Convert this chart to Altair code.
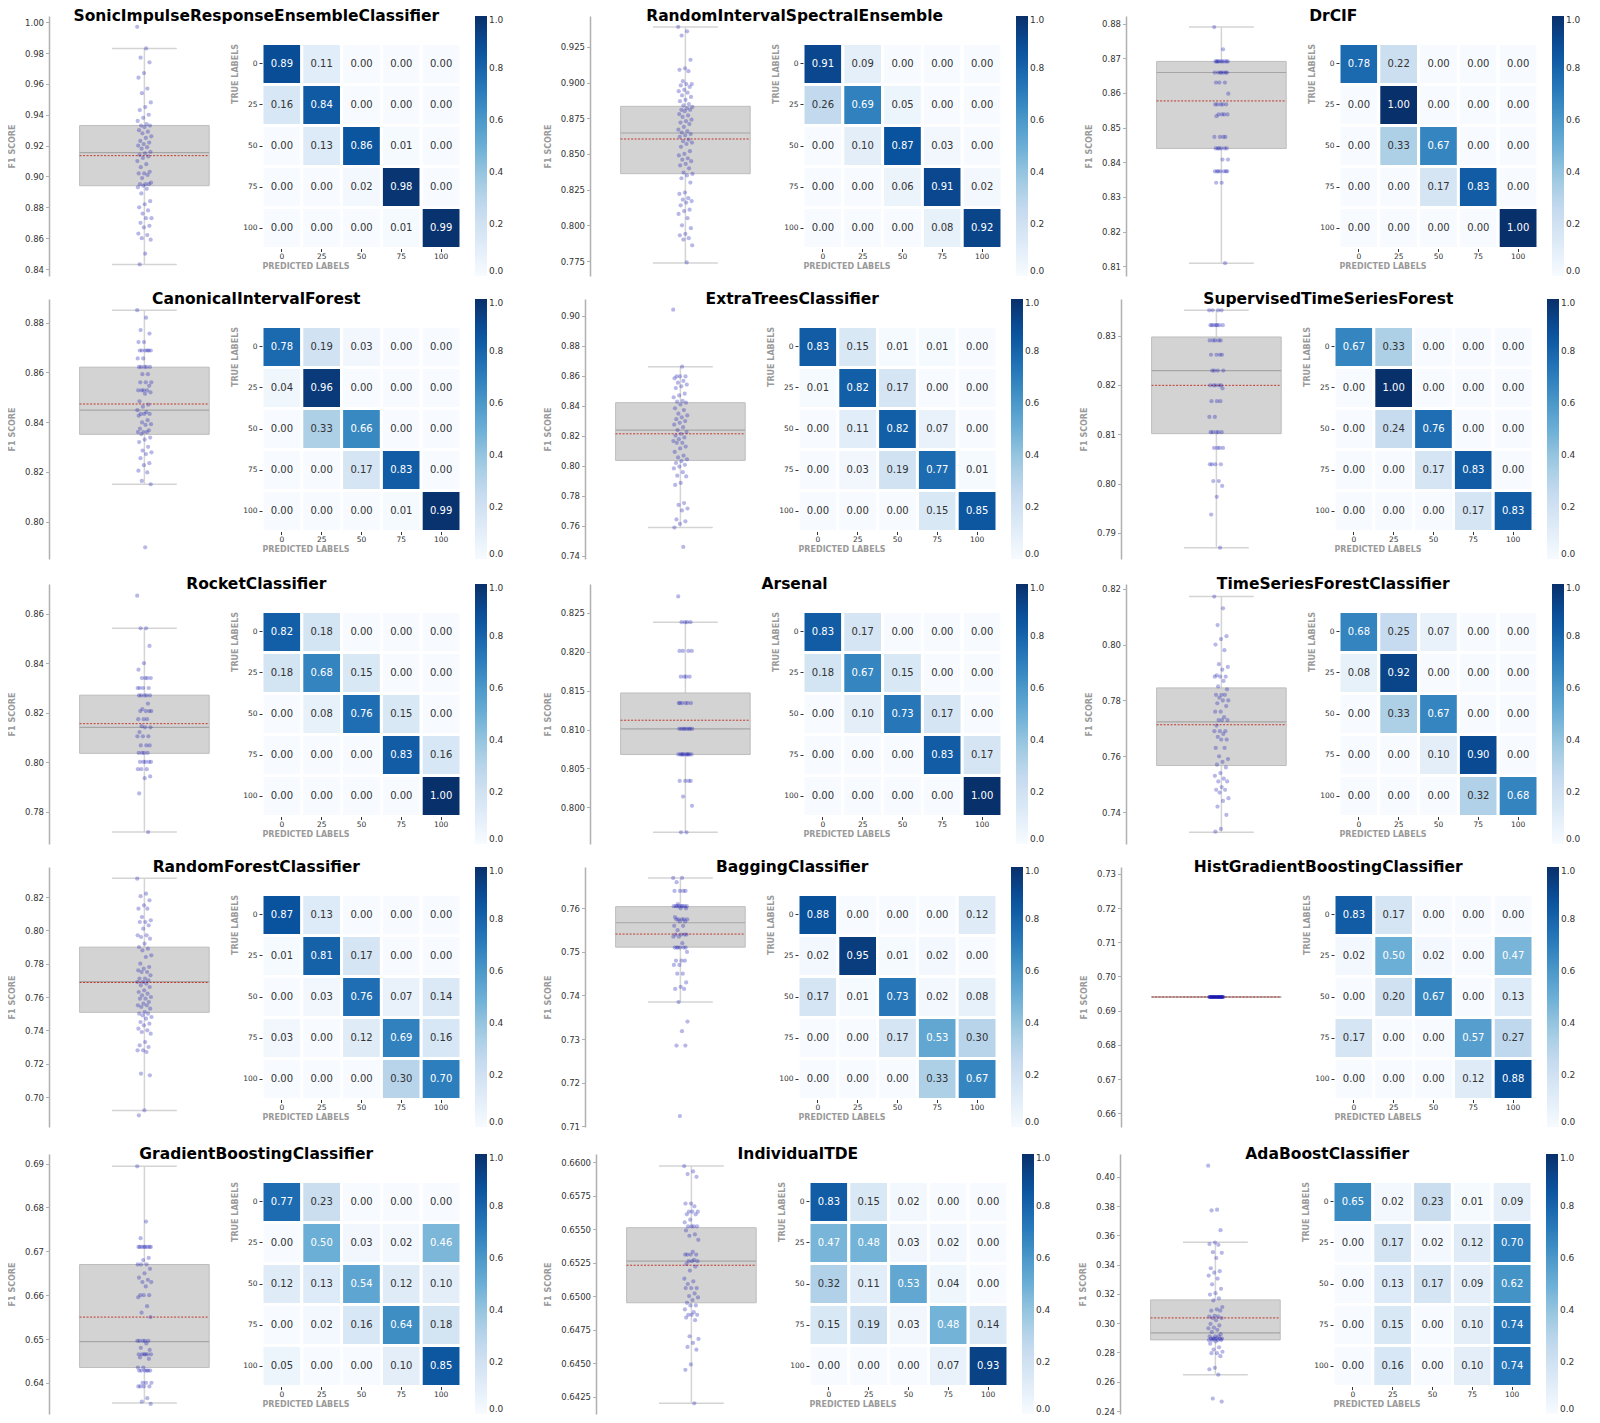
import altair as alt
import pandas as pd

names = ["SonicImpulseResponseEnsembleClassifier", "RandomIntervalSpectralEnsemble", "DrCIF",
         "CanonicalIntervalForest", "ExtraTreesClassifier", "SupervisedTimeSeriesForest",
         "RocketClassifier", "Arsenal", "TimeSeriesForestClassifier",
         "RandomForestClassifier", "BaggingClassifier", "HistGradientBoostingClassifier",
         "GradientBoostingClassifier", "IndividualTDE", "AdaBoostClassifier"]

y_domains = [[0.8355, 1.004], [0.7645, 0.9467], [0.8072, 0.8822],
             [0.785, 0.8895], [0.738, 0.911], [0.7847, 0.8374],
             [0.767, 0.872], [0.7953, 0.8287], [0.7286, 0.8217],
             [0.682, 0.838], [0.7098, 0.7695], [0.656, 0.732],
             [0.6329, 0.6922], [0.6412, 0.6606], [0.238, 0.4155]]

y_ticks = [[0.84, 0.86, 0.88, 0.90, 0.92, 0.94, 0.96, 0.98, 1.00],
           [0.775, 0.8, 0.825, 0.85, 0.875, 0.9, 0.925],
           [0.81, 0.82, 0.83, 0.84, 0.85, 0.86, 0.87, 0.88],
           [0.80, 0.82, 0.84, 0.86, 0.88],
           [0.74, 0.76, 0.78, 0.80, 0.82, 0.84, 0.86, 0.88, 0.90],
           [0.79, 0.80, 0.81, 0.82, 0.83],
           [0.78, 0.80, 0.82, 0.84, 0.86],
           [0.800, 0.805, 0.810, 0.815, 0.820, 0.825],
           [0.74, 0.76, 0.78, 0.80, 0.82],
           [0.70, 0.72, 0.74, 0.76, 0.78, 0.80, 0.82],
           [0.71, 0.72, 0.73, 0.74, 0.75, 0.76],
           [0.66, 0.67, 0.68, 0.69, 0.70, 0.71, 0.72, 0.73],
           [0.64, 0.65, 0.66, 0.67, 0.68, 0.69],
           [0.6425, 0.645, 0.6475, 0.65, 0.6525, 0.655, 0.6575, 0.66],
           [0.24, 0.26, 0.28, 0.30, 0.32, 0.34, 0.36, 0.38, 0.40]]

tick_formats = [".2f", ".3f", ".2f", ".2f", ".2f", ".2f", ".2f", ".3f", ".2f",
                ".2f", ".2f", ".2f", ".2f", ".4f", ".2f"]

box_lo = [0.843, 0.7736, 0.8109, 0.815, 0.7589, 0.787, 0.7718, 0.7968, 0.7328,
          0.6919, 0.7385, 0.694, 0.6354, 0.642, 0.2648]
box_q1 = [0.894, 0.8362, 0.844, 0.8351, 0.8036, 0.8101, 0.8036, 0.8068, 0.7567,
          0.7508, 0.7511, 0.694, 0.6435, 0.6495, 0.2886]
box_med = [0.9155, 0.8647, 0.8659, 0.8448, 0.8238, 0.8229, 0.8141, 0.8101, 0.7723,
           0.7692, 0.7567, 0.694, 0.6494, 0.6526, 0.2934]
box_q3 = [0.933, 0.8834, 0.8691, 0.8621, 0.842, 0.8297, 0.8271, 0.8147, 0.7845,
          0.7899, 0.7604, 0.694, 0.667, 0.6551, 0.3159]
box_hi = [0.983, 0.939, 0.879, 0.885, 0.866, 0.8351, 0.8541, 0.8238, 0.8172,
          0.8313, 0.767, 0.694, 0.6894, 0.6597, 0.3552]
box_mean = [0.9135, 0.8605, 0.8577, 0.8473, 0.8213, 0.8199, 0.8156, 0.8112, 0.7713,
            0.7687, 0.7541, 0.694, 0.655, 0.6523, 0.3036]

pts_sonic = [0.997, 0.983, 0.977, 0.974, 0.967, 0.964, 0.957, 0.954, 0.948, 0.945, 0.943, 0.940,
             0.938, 0.936, 0.934, 0.933, 0.933, 0.932, 0.930, 0.929, 0.928, 0.926, 0.925, 0.923,
             0.922, 0.921, 0.920, 0.919, 0.918, 0.916, 0.915, 0.914, 0.913, 0.912, 0.910, 0.908,
             0.906, 0.903, 0.902, 0.902, 0.901, 0.899, 0.896, 0.895, 0.895, 0.895, 0.894, 0.893,
             0.892, 0.889, 0.884, 0.882, 0.880, 0.878, 0.876, 0.873, 0.873, 0.870, 0.868, 0.867,
             0.863, 0.862, 0.860, 0.859, 0.850, 0.843]
pts_rise = [0.939, 0.936, 0.933, 0.916, 0.910, 0.909, 0.908, 0.901, 0.899, 0.899, 0.898, 0.897,
            0.895, 0.894, 0.893, 0.891, 0.890, 0.888, 0.887, 0.885, 0.884, 0.883, 0.882, 0.881,
            0.881, 0.880, 0.878, 0.877, 0.876, 0.874, 0.873, 0.872, 0.871, 0.869, 0.867, 0.866,
            0.865, 0.864, 0.863, 0.862, 0.860, 0.859, 0.858, 0.857, 0.855, 0.852, 0.850, 0.849,
            0.847, 0.846, 0.845, 0.843, 0.842, 0.840, 0.837, 0.836, 0.835, 0.833, 0.830, 0.823,
            0.822, 0.819, 0.818, 0.817, 0.816, 0.814, 0.811, 0.810, 0.808, 0.805, 0.800, 0.798,
            0.794, 0.793, 0.791, 0.790, 0.786, 0.774]
pts_drcif = [0.879, 0.8726, 0.8691, 0.8691, 0.8691, 0.8691, 0.8691, 0.8691, 0.8691, 0.8691,
             0.8691, 0.8659, 0.8659, 0.8659, 0.8659, 0.8659, 0.8659, 0.8659, 0.863, 0.863, 0.863,
             0.8598, 0.8567, 0.8567, 0.8567, 0.8567, 0.8567, 0.8538, 0.8538, 0.8538, 0.8538,
             0.8533, 0.8473, 0.8473, 0.8473, 0.8473, 0.844, 0.844, 0.844, 0.844, 0.844, 0.844,
             0.8408, 0.8408, 0.8374, 0.8374, 0.8374, 0.8374, 0.8374, 0.8374, 0.8374, 0.8341,
             0.8341, 0.8109]
pts_cif = [0.885, 0.882, 0.877, 0.8756, 0.8722, 0.8722, 0.8688, 0.8688, 0.8688, 0.8688, 0.8688,
           0.8688, 0.8656, 0.8656, 0.8622, 0.8622, 0.8622, 0.8622, 0.8622, 0.8593, 0.8593, 0.856,
           0.856, 0.856, 0.8546, 0.8528, 0.8528, 0.8528, 0.8528, 0.852, 0.8514, 0.8484, 0.847,
           0.8462, 0.8448, 0.844, 0.8433, 0.8433, 0.8433, 0.8426, 0.8408, 0.8399, 0.8392, 0.8389,
           0.8374, 0.8367, 0.836, 0.836, 0.836, 0.8352, 0.8338, 0.833, 0.832, 0.8301, 0.8286,
           0.8279, 0.8272, 0.8255, 0.8235, 0.8227, 0.8205, 0.8198, 0.8164, 0.815, 0.7897]
pts_extra = [0.9039, 0.866, 0.8595, 0.8595, 0.8595, 0.8582, 0.8565, 0.8553, 0.8541, 0.8529,
             0.8517, 0.848, 0.8468, 0.8456, 0.8432, 0.8427, 0.842, 0.8408, 0.8383, 0.8371, 0.8347,
             0.8335, 0.8323, 0.831, 0.8298, 0.8286, 0.8274, 0.8257, 0.8238, 0.8225, 0.8213, 0.8201,
             0.8189, 0.8177, 0.8165, 0.8153, 0.8153, 0.8128, 0.8116, 0.8092, 0.8068, 0.8056,
             0.8043, 0.8031, 0.8019, 0.8007, 0.7995, 0.7983, 0.7958, 0.7934, 0.7929, 0.7886,
             0.7873, 0.7752, 0.774, 0.7716, 0.7703, 0.7643, 0.7631, 0.7614, 0.7589, 0.746]
pts_stsf = [0.8351, 0.8351, 0.8351, 0.8351, 0.8321, 0.8321, 0.8321, 0.8321, 0.8321, 0.8321,
            0.8321, 0.829, 0.829, 0.829, 0.829, 0.829, 0.8261, 0.8261, 0.8261, 0.8261, 0.8229,
            0.8229, 0.8229, 0.8229, 0.8199, 0.8199, 0.8199, 0.8199, 0.8199, 0.8193, 0.8167,
            0.8167, 0.8167, 0.8135, 0.8135, 0.8104, 0.8104, 0.8104, 0.8104, 0.8104, 0.8072,
            0.8072, 0.8072, 0.8072, 0.8039, 0.8039, 0.8039, 0.8039, 0.8005, 0.8005, 0.7995,
            0.7973, 0.7937, 0.787]
pts_rocket = [0.8673, 0.8541, 0.8541, 0.847, 0.840, 0.8374, 0.834, 0.834, 0.834, 0.834, 0.830,
              0.830, 0.830, 0.830, 0.827, 0.827, 0.827, 0.827, 0.827, 0.8237, 0.8215, 0.8207,
              0.8207, 0.8207, 0.8207, 0.8174, 0.8174, 0.8174, 0.8146, 0.8141, 0.8141, 0.8122,
              0.8105, 0.8105, 0.8105, 0.8068, 0.8068, 0.8068, 0.8038, 0.8038, 0.8038, 0.8038,
              0.8002, 0.8002, 0.8002, 0.8002, 0.8002, 0.7972, 0.7972, 0.7972, 0.7943, 0.7936,
              0.7874, 0.7718]
pts_arsenal = [0.8271, 0.8238, 0.8238, 0.8238, 0.8238, 0.8201, 0.8201, 0.8201, 0.8201, 0.8168,
               0.8168, 0.8168, 0.8168, 0.8134, 0.8134, 0.8134, 0.8134, 0.8134, 0.8134, 0.8101,
               0.8101, 0.8101, 0.8101, 0.8101, 0.8101, 0.8101, 0.8101, 0.8068, 0.8068, 0.8068,
               0.8068, 0.8068, 0.8068, 0.8068, 0.8068, 0.8068, 0.8068, 0.8034, 0.8034, 0.8034,
               0.8034, 0.8014, 0.8002, 0.7968, 0.7968]
pts_tsf = [0.8172, 0.813, 0.807, 0.803, 0.802, 0.800, 0.798, 0.793, 0.792, 0.791, 0.789, 0.7885,
           0.7885, 0.7885, 0.787, 0.785, 0.784, 0.782, 0.782, 0.782, 0.781, 0.780, 0.780, 0.779,
           0.778, 0.776, 0.776, 0.774, 0.773, 0.773, 0.773, 0.771, 0.769, 0.769, 0.769, 0.768,
           0.767, 0.766, 0.766, 0.763, 0.763, 0.760, 0.759, 0.758, 0.757, 0.756, 0.754, 0.753,
           0.752, 0.751, 0.751, 0.749, 0.748, 0.748, 0.747, 0.745, 0.744, 0.742, 0.739, 0.734,
           0.733]
pts_rf = [0.831, 0.822, 0.8205, 0.818, 0.815, 0.813, 0.813, 0.808, 0.806, 0.805, 0.805, 0.803,
          0.801, 0.797, 0.797, 0.796, 0.795, 0.792, 0.790, 0.789, 0.788, 0.785, 0.784, 0.780,
          0.778, 0.777, 0.776, 0.775, 0.775, 0.773, 0.771, 0.771, 0.770, 0.769, 0.769, 0.768,
          0.767, 0.766, 0.764, 0.763, 0.762, 0.761, 0.760, 0.759, 0.759, 0.757, 0.756, 0.755,
          0.755, 0.754, 0.753, 0.751, 0.750, 0.750, 0.749, 0.748, 0.747, 0.745, 0.744, 0.743,
          0.741, 0.740, 0.739, 0.738, 0.733, 0.731, 0.730, 0.728, 0.728, 0.727, 0.714, 0.713,
          0.692, 0.689]
pts_bag = [0.767, 0.767, 0.766, 0.764, 0.764, 0.764, 0.764, 0.761, 0.7605, 0.7605, 0.7605,
           0.7605, 0.7605, 0.7605, 0.7605, 0.7605, 0.760, 0.760, 0.758, 0.7575, 0.7575, 0.7575,
           0.7575, 0.7575, 0.757, 0.757, 0.756, 0.756, 0.755, 0.754, 0.754, 0.754, 0.754,
           0.7535, 0.7535, 0.752, 0.751, 0.751, 0.751, 0.751, 0.751, 0.751, 0.750, 0.748, 0.748,
           0.748, 0.747, 0.747, 0.745, 0.745, 0.743, 0.742, 0.7415, 0.7415, 0.7385, 0.734,
           0.7318, 0.7285, 0.7285, 0.7123]
pts_hgb = [0.694, 0.694, 0.694, 0.694, 0.694, 0.694, 0.694, 0.694, 0.694, 0.694, 0.694, 0.694,
           0.694, 0.694, 0.694, 0.694, 0.694, 0.694, 0.694, 0.694, 0.694, 0.694, 0.694, 0.694,
           0.694, 0.694, 0.694, 0.694, 0.694, 0.694]
pts_gb = [0.6894, 0.6768, 0.673, 0.671, 0.671, 0.671, 0.671, 0.671, 0.671, 0.671, 0.671,
          0.6685, 0.668, 0.667, 0.667, 0.667, 0.666, 0.665, 0.664, 0.6635, 0.663, 0.663, 0.662,
          0.660, 0.660, 0.660, 0.6595, 0.6575, 0.656, 0.655, 0.6496, 0.6496, 0.6496, 0.6496,
          0.6496, 0.649, 0.648, 0.6475, 0.6465, 0.6465, 0.6465, 0.6465, 0.6465, 0.6465, 0.6458,
          0.6455, 0.6435, 0.6435, 0.6428, 0.6428, 0.6428, 0.6428, 0.6428, 0.6428, 0.640, 0.640,
          0.640, 0.6392, 0.6392, 0.6392, 0.6392, 0.6365, 0.6357, 0.6352]
pts_itde = [0.6597, 0.6593, 0.6591, 0.6589, 0.6569, 0.6569, 0.6567, 0.6563, 0.6563, 0.6563,
            0.6561, 0.6561, 0.6557, 0.6555, 0.6552, 0.6552, 0.6552, 0.6552, 0.6549, 0.6546,
            0.6545, 0.6542, 0.6533, 0.6531, 0.6531, 0.6531, 0.6531, 0.6527, 0.6526, 0.6526,
            0.6526, 0.6524, 0.6522, 0.6519, 0.6513, 0.6511, 0.6509, 0.6506, 0.6506, 0.6506,
            0.6502, 0.650, 0.6499, 0.6497, 0.6495, 0.6493, 0.6493, 0.649, 0.6488, 0.6486,
            0.6486, 0.6486, 0.6484, 0.6482, 0.647, 0.6468, 0.6465, 0.6462, 0.646, 0.6449, 0.6445,
            0.642]
pts_ada = [0.4075, 0.3775, 0.377, 0.3635, 0.355, 0.354, 0.3535, 0.3485, 0.348, 0.3445, 0.3375,
           0.3355, 0.3345, 0.3325, 0.3305, 0.3265, 0.3235, 0.3205, 0.3195, 0.317, 0.3155, 0.311,
           0.3095, 0.3085, 0.3085, 0.305, 0.3045, 0.3045, 0.3035, 0.3035, 0.302, 0.2995, 0.2985,
           0.297, 0.2965, 0.2955, 0.294, 0.2925, 0.291, 0.291, 0.291, 0.2895, 0.2895, 0.2895,
           0.2895, 0.2895, 0.2895, 0.2885, 0.2885, 0.2885, 0.2885, 0.2875, 0.286, 0.2835, 0.282,
           0.2805, 0.2795, 0.2795, 0.2775, 0.2695, 0.2685, 0.2648, 0.2485, 0.2465]

points = [pts_sonic, pts_rise, pts_drcif, pts_cif, pts_extra, pts_stsf, pts_rocket, pts_arsenal,
          pts_tsf, pts_rf, pts_bag, pts_hgb, pts_gb, pts_itde, pts_ada]

class_labels = ["0", "25", "50", "75", "100"]

conf = [
    [[.89, .11, 0, 0, 0], [.16, .84, 0, 0, 0], [0, .13, .86, .01, 0], [0, 0, .02, .98, 0], [0, 0, 0, .01, .99]],
    [[.91, .09, 0, 0, 0], [.26, .69, .05, 0, 0], [0, .10, .87, .03, 0], [0, 0, .06, .91, .02], [0, 0, 0, .08, .92]],
    [[.78, .22, 0, 0, 0], [0, 1, 0, 0, 0], [0, .33, .67, 0, 0], [0, 0, .17, .83, 0], [0, 0, 0, 0, 1]],
    [[.78, .19, .03, 0, 0], [.04, .96, 0, 0, 0], [0, .33, .66, 0, 0], [0, 0, .17, .83, 0], [0, 0, 0, .01, .99]],
    [[.83, .15, .01, .01, 0], [.01, .82, .17, 0, 0], [0, .11, .82, .07, 0], [0, .03, .19, .77, .01], [0, 0, 0, .15, .85]],
    [[.67, .33, 0, 0, 0], [0, 1, 0, 0, 0], [0, .24, .76, 0, 0], [0, 0, .17, .83, 0], [0, 0, 0, .17, .83]],
    [[.82, .18, 0, 0, 0], [.18, .68, .15, 0, 0], [0, .08, .76, .15, 0], [0, 0, 0, .83, .16], [0, 0, 0, 0, 1]],
    [[.83, .17, 0, 0, 0], [.18, .67, .15, 0, 0], [0, .10, .73, .17, 0], [0, 0, 0, .83, .17], [0, 0, 0, 0, 1]],
    [[.68, .25, .07, 0, 0], [.08, .92, 0, 0, 0], [0, .33, .67, 0, 0], [0, 0, .10, .90, 0], [0, 0, 0, .32, .68]],
    [[.87, .13, 0, 0, 0], [.01, .81, .17, 0, 0], [0, .03, .76, .07, .14], [.03, 0, .12, .69, .16], [0, 0, 0, .30, .70]],
    [[.88, 0, 0, 0, .12], [.02, .95, .01, .02, 0], [.17, .01, .73, .02, .08], [0, 0, .17, .53, .30], [0, 0, 0, .33, .67]],
    [[.83, .17, 0, 0, 0], [.02, .50, .02, 0, .47], [0, .20, .67, 0, .13], [.17, 0, 0, .57, .27], [0, 0, 0, .12, .88]],
    [[.77, .23, 0, 0, 0], [0, .50, .03, .02, .46], [.12, .13, .54, .12, .10], [0, .02, .16, .64, .18], [.05, 0, 0, .10, .85]],
    [[.83, .15, .02, 0, 0], [.47, .48, .03, .02, 0], [.32, .11, .53, .04, 0], [.15, .19, .03, .48, .14], [0, 0, 0, .07, .93]],
    [[.65, .02, .23, .01, .09], [0, .17, .02, .12, .70], [0, .13, .17, .09, .62], [0, .15, 0, .10, .74], [0, .16, 0, .10, .74]],
]

blues = ["#f7fbff", "#deebf7", "#c6dbef", "#9ecae1", "#6baed6", "#4292c6", "#2171b5", "#08519c", "#08306b"]
blues_stops = [0, 0.125, 0.25, 0.375, 0.5, 0.625, 0.75, 0.875, 1.0]

FONT = "DejaVu Sans"

# ---- tables ----
pts_rows = []
for k, vals in enumerate(points):
    for i, v in enumerate(vals):
        pts_rows.append({"p": k, "i": i, "v": v})
pts_df = pd.DataFrame(pts_rows)

stats_df = pd.DataFrame({"p": list(range(len(names))), "lo": box_lo, "q1": box_q1, "med": box_med,
                         "q3": box_q3, "hi": box_hi, "mean": box_mean})

cm_rows = []
for k, m in enumerate(conf):
    for r, row in enumerate(m):
        for c, val in enumerate(row):
            cm_rows.append({"p": k, "t": class_labels[r], "pr": class_labels[c], "val": val})
cm_df = pd.DataFrame(cm_rows)

BOX_W = 180
HEAT_W = 199
H = 260
PAD_OUT = 0.67
CELL_TOP = 27.5
IND = dict(x="independent", y="independent", color="independent")


def box_panel(k):
    ysc = alt.Scale(domain=y_domains[k], nice=False, zero=False)
    xsc = alt.Scale(domain=[-0.53, 0.47], nice=False, zero=False)
    yax = alt.Axis(values=y_ticks[k], format=tick_formats[k], title="F1 SCORE", grid=False,
                   domainColor="#b0b0b0", domainWidth=1.5, tickColor="#b0b0b0", tickSize=3.5,
                   labelFontSize=8.5, labelColor="#333333", titleFontSize=8, titleColor="#9a9a9a",
                   titleFontWeight="bold", titlePadding=8, labelPadding=2)
    st = alt.Chart(stats_df).transform_filter(alt.datum.p == k)
    whisk = st.mark_rule(color="#d4d4d4", strokeWidth=1.5).encode(
        x=alt.XDatum(0, scale=xsc, axis=None),
        y=alt.Y("lo:Q", scale=ysc, axis=yax), y2="hi:Q")
    cap_lo = st.mark_rule(color="#d4d4d4", strokeWidth=1.5).encode(
        x=alt.XDatum(-0.18, scale=xsc, axis=None), x2=alt.X2Datum(0.18),
        y=alt.Y("lo:Q", scale=ysc, axis=yax))
    cap_hi = st.mark_rule(color="#d4d4d4", strokeWidth=1.5).encode(
        x=alt.XDatum(-0.18, scale=xsc, axis=None), x2=alt.X2Datum(0.18),
        y=alt.Y("hi:Q", scale=ysc, axis=yax))
    box = st.mark_rect(fill="#d3d3d3", stroke="#bdbdbd", strokeWidth=1).encode(
        x=alt.XDatum(-0.36, scale=xsc, axis=None), x2=alt.X2Datum(0.36),
        y=alt.Y("q1:Q", scale=ysc, axis=yax), y2="q3:Q")
    med = st.mark_rule(color="#a6a6a6", strokeWidth=1.2).encode(
        x=alt.XDatum(-0.36, scale=xsc, axis=None), x2=alt.X2Datum(0.36),
        y=alt.Y("med:Q", scale=ysc, axis=yax))
    mean = st.mark_rule(color="#c0392b", strokeWidth=1, strokeDash=[2, 1.5]).encode(
        x=alt.XDatum(-0.36, scale=xsc, axis=None), x2=alt.X2Datum(0.36),
        y=alt.Y("mean:Q", scale=ysc, axis=yax))
    pts = alt.Chart(pts_df).transform_filter(alt.datum.p == k).transform_calculate(
        jx="((datum.i * 0.618034) % 1 - 0.5) * 0.08"
    ).mark_circle(size=18, color="#1414b4", opacity=0.3).encode(
        x=alt.X("jx:Q", scale=xsc, axis=None),
        y=alt.Y("v:Q", scale=ysc, axis=yax))
    return alt.layer(whisk, cap_lo, cap_hi, box, med, mean, pts).properties(width=BOX_W, height=H)


def heat_panel(k):
    base = alt.Chart(cm_df).transform_filter(alt.datum.p == k)
    xs = alt.X("pr:N", sort=class_labels, scale=alt.Scale(paddingInner=0, paddingOuter=0),
               axis=alt.Axis(title="PREDICTED LABELS", labelAngle=0, offset=-CELL_TOP, domain=False,
                             tickSize=3, tickColor="#333333", labelFontSize=7.5, labelColor="#333333",
                             titleFontSize=8, titleColor="#9a9a9a", titleFontWeight="bold",
                             titleAnchor="start", titlePadding=2, labelPadding=1))
    ys = alt.Y("t:N", sort=class_labels, scale=alt.Scale(paddingInner=0, paddingOuter=PAD_OUT),
               axis=alt.Axis(title="TRUE LABELS", domain=False, tickSize=3, tickColor="#333333",
                             labelFontSize=7.5, labelColor="#333333", titleFontSize=8,
                             titleColor="#9a9a9a", titleFontWeight="bold",
                             titleY=CELL_TOP, titleAlign="right",
                             titlePadding=3, labelPadding=2))
    rect = base.mark_rect(stroke="white", strokeWidth=3).encode(
        x=xs, y=ys,
        color=alt.Color("val:Q", scale=alt.Scale(domain=blues_stops, range=blues),
                        legend=alt.Legend(title=None, orient="right", offset=14, direction="vertical",
                                          gradientLength=H, gradientThickness=12,
                                          gradientStrokeWidth=0,
                                          values=[0, 0.2, 0.4, 0.6, 0.8, 1.0], format=".1f",
                                          labelFontSize=9, labelColor="#333333", labelOverlap=False)))
    text = base.mark_text(fontSize=10, font=FONT).encode(
        x=xs, y=ys, text=alt.Text("val:Q", format=".2f"),
        color=alt.condition(alt.datum.val > 0.45, alt.value("white"), alt.value("#333333")))
    return alt.layer(rect, text).properties(width=HEAT_W, height=H)


def panel(k):
    return alt.hconcat(
        box_panel(k), heat_panel(k), spacing=2,
        title=alt.TitleParams(names[k], fontSize=15.5, fontWeight="bold", font=FONT, anchor="middle",
                              offset=-8, color="black")
    ).resolve_scale(**IND)


rows = []
for r in range(4):
    rows.append(alt.hconcat(*[panel(3 * r + c) for c in range(3)], spacing=40)
                .resolve_scale(**IND))
# last row: the middle panel has wider tick labels, keep the outer columns in place
first_two = alt.hconcat(panel(12), panel(13), spacing=40).resolve_scale(**IND)
rows.append(alt.hconcat(first_two, panel(14), spacing=28).resolve_scale(**IND))

chart = alt.vconcat(*rows, spacing=15).resolve_scale(**IND).properties(
    padding=0
).configure_view(strokeWidth=0).configure_axis(
    labelFont=FONT, titleFont=FONT
).configure_legend(labelFont=FONT).configure_title(font=FONT)

chart.save("out.html", embed_options={"renderer": "svg", "actions": False})
